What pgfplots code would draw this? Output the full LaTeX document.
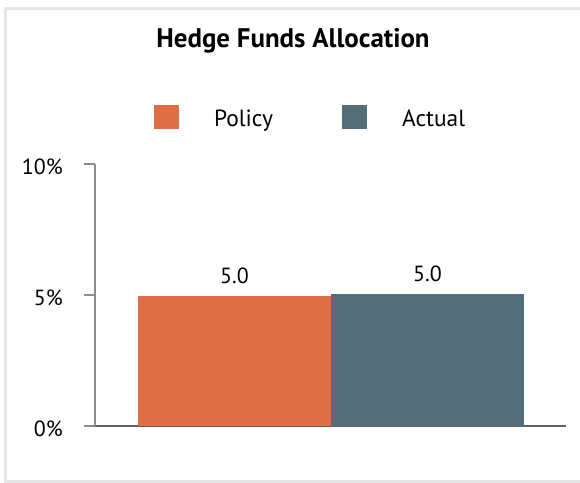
\documentclass[border=0pt]{standalone}
\usepackage{fontspec}
\setmainfont{PT Sans}
\usepackage{pgfplots}
\pgfplotsset{compat=1.18}
\definecolor{policy}{RGB}{222,110,67}
\definecolor{actual}{RGB}{83,110,121}
\definecolor{framegray}{RGB}{230,230,230}
\newcommand{\lbl}{\fontsize{22}{26}\selectfont}

\begin{document}
\begin{tikzpicture}[x=1bp,y=1bp]
\useasboundingbox (0,0) rectangle (580,483);
% light frame: left, top and bottom edges only (open to the right)
\draw[framegray, line width=3bp] (580,1.5) -- (5.5,1.5) -- (5.5,474.5) -- (580,474.5);

\node[font=\fontsize{27}{31}\selectfont\bfseries, anchor=base] at (293,435.5) {Hedge Funds Allocation};

\begin{axis}[
  at={(95bp,57bp)}, anchor=south west,
  scale only axis, width=471bp, height=262bp,
  xmin=0, xmax=471, ymin=0, ymax=10,
  axis x line=bottom, axis y line=left,
  x axis line style={draw=black!62, line width=2bp, -},
  y axis line style={draw=black!45, line width=1.5bp, -},
  xtick=\empty,
  ytick={0,5,10}, yticklabels={0\%,5\%,10\%},
  tick align=outside, major tick length=11bp,
  ytick style={draw=black!45, line width=1.5bp},
  yticklabel style={font=\lbl, anchor=east, inner sep=0pt, xshift=-21bp, yshift=-3bp},
  /pgf/number format/assume math mode=true,
  ybar, bar width=193, bar shift=0pt,
  nodes near coords,
  nodes near coords style={font=\lbl, anchor=base, inner sep=0pt, yshift=12.5bp,
    /pgf/number format/fixed, /pgf/number format/fixed zerofill, /pgf/number format/precision=1},
  legend columns=2,
  legend style={at={(0.1253,1.1794)}, anchor=west, draw=none, fill=none,
    inner sep=0pt, outer sep=0pt, font=\fontsize{23.5}{27}\selectfont,
    nodes={inner sep=0pt, yshift=-2bp},
    /tikz/every odd column/.append style={column sep=35bp},
    /tikz/every even column/.append style={column sep=69bp}},
]
\addplot[fill=policy, draw=none,
  legend image code/.code={\fill[policy] (0bp,-12bp) rectangle (25bp,12bp);}]
  coordinates {(139.5,4.96)};
\addplot[fill=actual, draw=none,
  legend image code/.code={\fill[actual] (0bp,-12bp) rectangle (25bp,12bp);}]
  coordinates {(332.5,5.03)};
\legend{Policy, Actual}
\end{axis}
\end{tikzpicture}
\end{document}
